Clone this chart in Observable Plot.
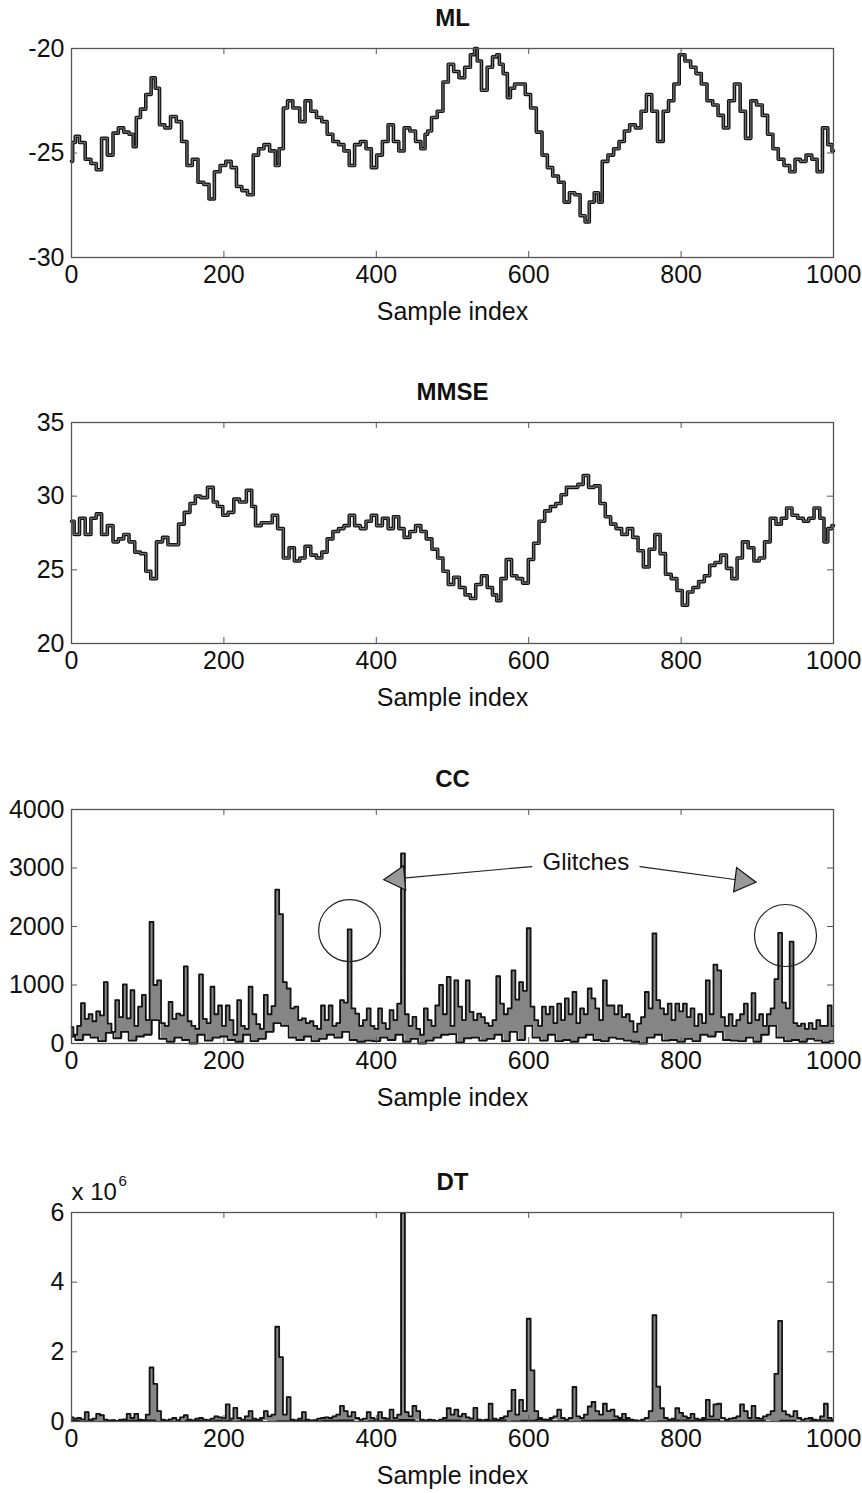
<!DOCTYPE html>
<html><head><meta charset="utf-8">
<script src="https://cdn.jsdelivr.net/npm/d3@7"></script>
<script src="https://cdn.jsdelivr.net/npm/@observablehq/plot@0.6"></script>
<style>
body{margin:0;background:#fff;}
#wrap{position:relative;width:862px;height:1493px;overflow:hidden;background:#fff;}
#wrap svg{position:absolute;left:0;}
</style></head><body><div id="wrap"></div>
<script>
// ---- data ----
const sampleTicks = [0, 200, 400, 600, 800, 1000];
const mlTicks = [-30, -25, -20];
const mmseTicks = [20, 25, 30, 35];
const ccTicks = [0, 1000, 2000, 3000, 4000];
const dtTicks = [0, 2, 4, 6];

// ML estimate: sample index and value
const mlSamples = [0,3,7,14,22,29,36,43,51,58,
 65,72,79,83,87,94,101,108,112,119,
 126,134,141,148,155,162,170,177,184,191,
 199,206,213,220,227,235,242,249,256,264,
 271,274,282,285,296,303,310,318,325,332,
 339,347,354,361,368,375,383,390,397,404,
 412,419,426,433,440,448,455,462,466,469,
 476,484,491,498,505,512,520,527,531,534,
 542,549,556,560,563,570,574,578,585,592,
 599,606,614,621,628,635,643,650,657,664,
 671,677,682,690,693,700,708,715,722,729,
 736,744,751,758,765,773,780,787,794,801,
 809,816,823,830,838,845,852,859,866,874,
 881,888,895,903,910,917,924,931,939,946,
 953,960,968,975,982,989,996,1000];
const mlValues = [-25.4,-24.5,-24.2,-24.5,-25.3,-25.5,-25.8,-24.3,-25.1,-24.05,
 -23.8,-24.0,-24.1,-24.7,-23.3,-22.9,-22.2,-21.4,-21.9,-23.65,
 -23.8,-23.25,-23.5,-24.45,-25.6,-25.3,-26.4,-26.5,-27.2,-25.9,
 -25.6,-25.4,-25.7,-26.6,-26.8,-27.0,-25.1,-24.8,-24.6,-24.9,
 -25.6,-24.8,-22.85,-22.5,-22.85,-23.5,-22.5,-23.0,-23.3,-23.5,
 -24.1,-24.45,-24.6,-24.9,-25.6,-24.6,-24.45,-24.8,-25.7,-25.1,
 -24.45,-23.65,-24.45,-24.9,-23.8,-23.95,-24.45,-24.8,-24.1,-23.95,
 -23.3,-23.0,-21.6,-20.75,-21.1,-21.4,-20.9,-20.3,-20.0,-20.6,
 -22.0,-20.9,-20.4,-20.3,-20.75,-21.2,-22.35,-21.9,-21.7,-21.7,
 -22.2,-22.85,-24.0,-25.1,-25.7,-26.1,-26.4,-27.35,-26.9,-27.0,
 -28.0,-28.3,-27.35,-26.9,-27.35,-25.4,-25.1,-24.8,-24.45,-23.95,
 -23.65,-23.8,-23.0,-22.2,-23.0,-24.45,-23.0,-22.5,-21.7,-20.3,
 -20.6,-20.9,-21.2,-21.7,-22.5,-22.7,-23.2,-23.8,-22.5,-21.7,
 -23.0,-24.3,-22.5,-22.7,-23.2,-24.1,-24.8,-25.3,-25.6,-25.9,
 -25.3,-25.4,-25.1,-25.3,-25.9,-23.8,-24.6,-24.9];

// MMSE estimate: sample index and value
const mmseSamples = [0,7,14,22,29,36,43,51,58,65,
 72,79,87,94,101,107,116,123,130,137,
 144,152,159,166,173,184,188,195,202,209,
 217,224,235,238,245,253,260,267,274,282,
 289,296,303,310,318,325,332,339,347,354,
 361,368,375,383,390,397,404,412,419,426,
 433,440,448,455,462,469,477,484,491,498,
 505,513,520,527,534,542,549,556,560,567,
 574,581,588,596,603,610,617,625,632,639,
 646,653,661,668,675,682,690,697,704,711,
 718,726,733,740,747,754,762,769,776,783,
 791,798,805,812,819,827,834,841,848,856,
 863,870,877,884,892,899,906,913,921,928,
 935,942,949,957,964,971,978,986,989,996,
 1000];
const mmseValues = [28.3,27.4,28.5,27.4,28.5,28.8,27.4,28.0,26.9,27.1,
 27.4,26.9,26.2,26.1,24.9,24.4,26.9,27.2,26.7,26.7,
 28.1,28.9,29.5,30.0,29.9,30.6,29.6,29.3,28.7,28.9,
 29.8,29.6,30.4,29.3,28.0,28.2,28.2,28.7,27.8,25.8,
 26.5,25.6,25.8,26.6,26.0,25.8,26.2,27.1,27.6,27.8,
 28.0,28.7,28.0,27.8,28.3,28.7,28.0,28.5,27.8,28.6,
 27.8,27.2,27.6,28.0,27.6,27.1,26.4,25.8,24.9,24.0,
 24.5,23.8,23.3,23.05,24.0,24.6,23.8,23.3,22.9,24.4,
 25.7,24.6,24.4,24.1,25.7,26.8,28.3,29.0,29.3,29.5,
 30.1,30.6,30.6,30.8,31.4,30.6,30.7,29.5,28.6,28.1,
 27.8,27.4,27.8,27.2,26.3,25.2,26.4,27.4,26.1,24.7,
 24.4,23.6,22.6,23.5,23.8,24.2,24.6,25.3,25.5,26.0,
 25.1,24.4,25.8,26.9,26.5,25.6,25.8,26.9,28.5,28.1,
 28.5,29.2,28.7,28.5,28.3,28.5,29.2,28.5,26.9,27.8,
 28.0];

// CC upper trace, one value every 5 samples
const ccHigh = [280,150,300,690,420,500,380,550,480,1050,340,200,740,450,1010,430,910,300,630,830,
 400,2080,1000,1080,350,300,710,420,510,480,1320,380,300,250,1180,420,350,970,500,650,
 300,650,400,150,740,300,250,970,500,330,250,830,500,640,2630,2210,1050,940,600,630,
 400,430,350,380,300,250,650,400,650,300,350,740,700,1950,600,510,300,400,600,300,
 250,600,350,250,570,400,680,3250,500,300,455,250,150,600,400,300,650,1000,500,1140,
 300,1080,630,400,1080,540,400,510,450,350,300,400,1150,680,500,600,1250,750,1050,900,
 1970,630,400,300,630,500,630,350,680,400,770,500,880,350,600,500,940,770,600,400,
 1080,650,650,500,650,450,500,380,200,340,450,880,600,1880,740,600,500,680,400,680,
 550,680,450,600,300,500,350,1080,500,1350,1250,450,300,500,300,400,500,680,350,860,
 400,500,300,500,600,1100,1890,700,600,1740,350,300,340,250,350,250,400,300,300,650,
 300];
// CC lower trace, one value every 10 samples
const ccLow = [120,60,150,100,40,180,90,200,50,120,
 150,400,80,30,100,60,0,150,50,100,
 120,60,30,150,40,80,200,350,300,100,
 60,120,40,80,150,100,200,60,30,50,
 40,100,60,150,30,80,0,50,100,150,
 160,20,90,100,50,80,150,40,200,60,
 300,100,50,150,40,60,30,100,150,60,
 40,100,80,50,30,0,100,150,50,60,
 30,80,40,150,120,200,60,50,40,100,
 30,150,300,100,40,60,30,80,50,20,
 40];

// DT upper trace (x 10^6), one value every 5 samples
const dtHigh = [0.12,0.08,0.1,0.06,0.27,0.05,0.08,0.22,0.18,0.05,0.03,0.04,0.02,0.05,0.06,0.22,0.1,0.22,0.05,0.04,
 0.2,1.55,1.08,0.3,0.05,0.03,0.06,0.1,0.04,0.12,0.18,0.05,0.03,0.08,0.1,0.05,0.04,0.08,0.15,0.12,
 0.1,0.49,0.08,0.39,0.1,0.05,0.15,0.3,0.08,0.05,0.1,0.3,0.15,0.2,2.72,1.85,0.2,0.7,0.05,0.03,
 0.08,0.27,0.05,0.03,0.04,0.08,0.1,0.12,0.1,0.15,0.2,0.45,0.3,0.15,0.27,0.1,0.05,0.08,0.27,0.1,
 0.05,0.27,0.1,0.08,0.34,0.1,0.2,5.98,0.27,0.15,0.45,0.3,0.05,0.03,0.05,0.04,0.02,0.05,0.1,0.38,
 0.2,0.34,0.15,0.22,0.12,0.08,0.39,0.05,0.03,0.05,0.51,0.08,0.05,0.1,0.15,0.3,0.91,0.2,0.62,0.3,
 2.95,1.47,0.3,0.1,0.05,0.03,0.1,0.15,0.34,0.1,0.05,0.1,0.99,0.15,0.1,0.2,0.43,0.56,0.3,0.2,
 0.51,0.3,0.34,0.15,0.1,0.22,0.1,0.05,0.03,0.02,0.05,0.1,0.3,3.05,1.0,0.38,0.1,0.05,0.08,0.38,
 0.25,0.15,0.1,0.22,0.08,0.05,0.1,0.62,0.15,0.49,0.51,0.1,0.05,0.08,0.1,0.15,0.49,0.3,0.1,0.45,
 0.1,0.08,0.15,0.2,0.3,1.37,2.89,0.3,0.2,0.15,0.3,0.1,0.05,0.08,0.1,0.05,0.03,0.15,0.51,0.1,
 0.05];
// DT lower trace (x 10^6), one value every 20 samples
const dtLow = [0.02,0,-0.04,0.01,0.02,0.03,0,-0.03,0.02,0.01,
 0.02,0,0.03,-0.04,0.01,0.02,0,0.02,0.03,-0.02,
 0.01,0.02,0.04,0,-0.05,0.03,0.01,0.02,0.03,0,
 0.02,0.05,0.01,-0.03,0.02,0.03,0.04,0.02,-0.04,0.01,
 0.03,0.02,0.05,0,0.01,0.02,-0.05,0.02,-0.06,0.03,
 0.02];

// ---- tables ----
const mlData = mlValues.map((v, i) => ({s: mlSamples[i], v}));
const mmseData = mmseValues.map((v, i) => ({s: mmseSamples[i], v}));
const ccData = ccHigh.map((hi, i) => ({s: i * 5, hi, lo: ccLow[Math.floor(i / 2)]}));
const ccLowData = ccLow.map((lo, i) => ({s: i * 10, lo}));
const dtData = dtHigh.map((hi, i) => ({s: i * 5, hi, lo: dtLow[Math.floor(i / 4)]}));
const dtLowData = dtLow.map((lo, i) => ({s: i * 20, lo}));

const FONT = '"Liberation Sans", Arial, Helvetica, sans-serif';
const AX = "#555";
const FILL = "#858585";

function panel(o) {
  const W = 862, mt = 48, mb = 75, ml = 71, mr = 29;
  const fw = W - ml - mr;
  const [y0, y1] = o.yDomain;
  const fmt = d => String(d);
  const marks = [
    ...o.marks,
    Plot.frame({stroke: AX, strokeWidth: 1.3}),
    Plot.ruleX(sampleTicks, {y1: y1, y2: y0, insetTop: o.h - 6, stroke: AX}),
    Plot.ruleX(sampleTicks, {y1: y1, y2: y0, insetBottom: o.h - 6, stroke: AX}),
    Plot.ruleY(o.yTicks, {x1: 0, x2: 1000, insetRight: fw - 6, stroke: AX}),
    Plot.ruleY(o.yTicks, {x1: 0, x2: 1000, insetLeft: fw - 6, stroke: AX}),
    Plot.axisX({ticks: sampleTicks, tickSize: 0, tickPadding: 8, tickFormat: fmt, label: null, fontSize: 25}),
    Plot.axisY({ticks: o.yTicks, tickSize: 0, tickPadding: 7, tickFormat: fmt, label: null, fontSize: 25}),
    Plot.text([o.title], {text: d => d, frameAnchor: "top", dy: -30, fontWeight: "bold", fontSize: 24, lineAnchor: "middle"}),
    Plot.text(["Sample index"], {text: d => d, frameAnchor: "bottom", dy: 54, fontSize: 25, lineAnchor: "middle"}),
    ...(o.extra || [])
  ];
  const svg = Plot.plot({
    width: W, height: mt + o.h + mb,
    marginTop: mt, marginBottom: mb, marginLeft: ml, marginRight: mr,
    x: {domain: [0, 1000]},
    y: {domain: o.yDomain},
    style: {fontFamily: FONT, fontSize: "25px", color: "#111", background: "transparent", overflow: "visible"},
    marks
  });
  svg.style.top = (o.top - mt) + "px";
  document.getElementById("wrap").appendChild(svg);
}

function traceMarks(data) {
  return [
    Plot.line(data, {x: "s", y: "v", curve: "step", stroke: "#111", strokeWidth: 3.6}),
    Plot.line(data, {x: "s", y: "v", curve: "step", stroke: "#707070", strokeWidth: 1.2})
  ];
}

panel({top: 48, h: 209, yDomain: [-30, -20], yTicks: mlTicks, title: "ML", marks: traceMarks(mlData)});
panel({top: 422, h: 221, yDomain: [20, 35], yTicks: mmseTicks, title: "MMSE", marks: traceMarks(mmseData)});

panel({top: 809, h: 234, yDomain: [0, 4000], yTicks: ccTicks, title: "CC",
  marks: [
    Plot.areaY(ccData, {x: "s", y1: "lo", y2: "hi", curve: "step", fill: FILL}),
    Plot.line(ccData, {x: "s", y: "hi", curve: "step", stroke: "#111", strokeWidth: 1.8}),
    Plot.line(ccLowData, {x: "s", y: "lo", curve: "step", stroke: "#111", strokeWidth: 1.8})
  ],
  extra: [
    Plot.dot([{x: 365, y: 1930}, {x: 937, y: 1846}], {x: "x", y: "y", r: 31, stroke: "#222", fill: "none", strokeWidth: 1.2}),
    Plot.arrow([{x1: 604, y1: 3025, x2: 428, y2: 2820}, {x1: 746, y1: 3025, x2: 880, y2: 2786}],
      {x1: "x1", y1: "y1", x2: "x2", y2: "y2", stroke: "#222", strokeWidth: 1.2, headLength: 0}),
    Plot.dot([{x: 428, y: 2820, a: 265}, {x: 880, y: 2786, a: 97}],
      {x: "x", y: "y", symbol: "triangle", r: 9, rotate: "a", fill: "#999", stroke: "#111", strokeWidth: 1.2}),
    Plot.text(["Glitches"], {text: d => d, x: 675, y: 3093, fontSize: 24})
  ]
});

panel({top: 1212, h: 209, yDomain: [0, 6], yTicks: dtTicks, title: "DT",
  marks: [
    Plot.areaY(dtData, {x: "s", y1: "lo", y2: "hi", curve: "step", fill: FILL, clip: true}),
    Plot.line(dtData, {x: "s", y: "hi", curve: "step", stroke: "#111", strokeWidth: 1.8, clip: true}),
    Plot.line(dtLowData, {x: "s", y: "lo", curve: "step", stroke: "#111", strokeWidth: 2, clip: true})
  ],
  extra: [
    Plot.text(["x 10"], {text: d => d, frameAnchor: "top-left", dy: -20, textAnchor: "start", fontSize: 24, lineAnchor: "middle"}),
    Plot.text(["6"], {text: d => d, frameAnchor: "top-left", dx: 47, dy: -31, textAnchor: "start", fontSize: 15, lineAnchor: "middle"})
  ]
});
</script></body></html>
